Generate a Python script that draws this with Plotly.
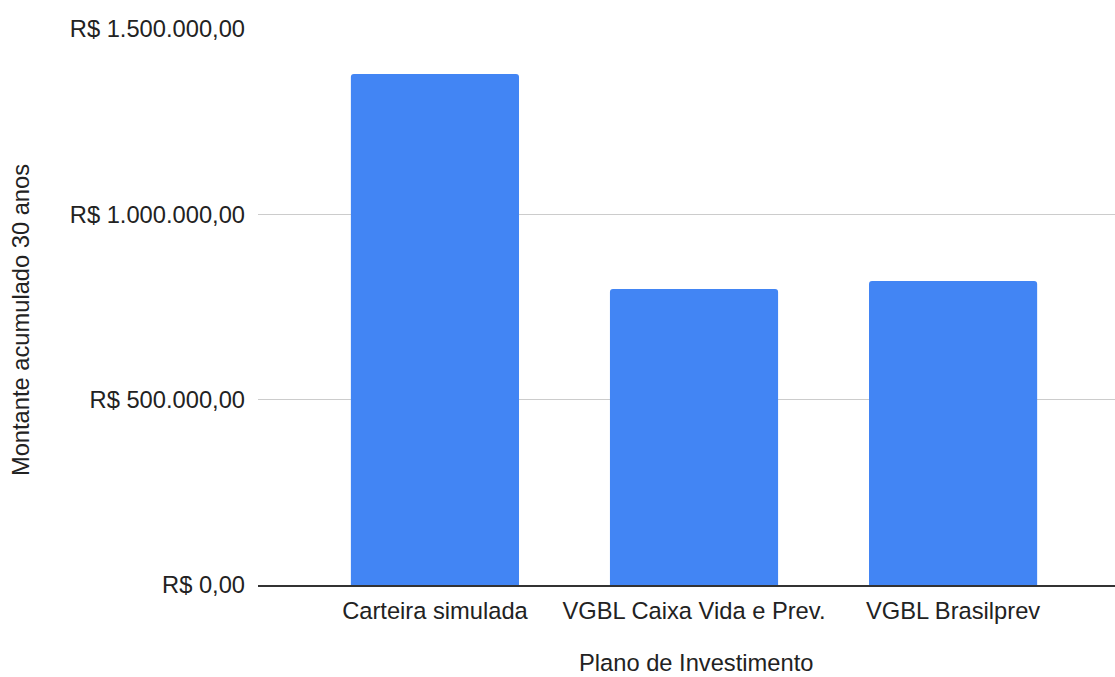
import plotly.graph_objects as go

categories = ["Carteira simulada", "VGBL Caixa Vida e Prev.", "VGBL Brasilprev"]
values = [1378600, 798600, 820100]
tick_vals = [0, 500000, 1000000, 1500000]
tick_text = ["R$ 0,00", "R$ 500.000,00", "R$ 1.000.000,00", "R$ 1.500.000,00"]
x_title = "Plano de Investimento"
y_title = "Montante acumulado 30 anos"

fig = go.Figure(go.Bar(
    x=list(range(len(categories))), y=values,
    marker=dict(color="#4285F4", line=dict(width=0)),
    width=0.649,
))

font = "Arial"
fs = 23.7
tfont = dict(family=font, size=fs, color="#222")
fig.update_layout(
    width=1115, height=677,
    margin=dict(l=258, r=0, t=29, b=92),
    paper_bgcolor="white", plot_bgcolor="white",
    barcornerradius=3,
    showlegend=False,
    font=tfont,
    xaxis=dict(
        tickmode="array", tickvals=list(range(len(categories))), ticktext=categories,
        range=[-0.683, 2.625],
        showgrid=False, zeroline=False,
        showline=True, linecolor="#333", linewidth=1.5,
        ticks="", ticklabelstandoff=4,
        tickfont=tfont,
    ),
    yaxis=dict(
        range=[0, 1500000],
        tickmode="array", tickvals=tick_vals, ticktext=tick_text,
        showgrid=True, gridcolor="#cccccc", gridwidth=1,
        zeroline=False, showline=False,
        ticks="", ticklabelstandoff=12,
        tickfont=tfont,
    ),
    annotations=[
        dict(text=x_title, xref="paper", yref="paper", x=0.511, y=-0.1405,
             xanchor="center", yanchor="middle", showarrow=False, font=tfont),
        dict(text=y_title, xref="paper", yref="paper", x=-0.2765, y=0.4766,
             xanchor="center", yanchor="middle", showarrow=False, textangle=-90, font=tfont),
    ],
)

fig.write_html("out.html")
